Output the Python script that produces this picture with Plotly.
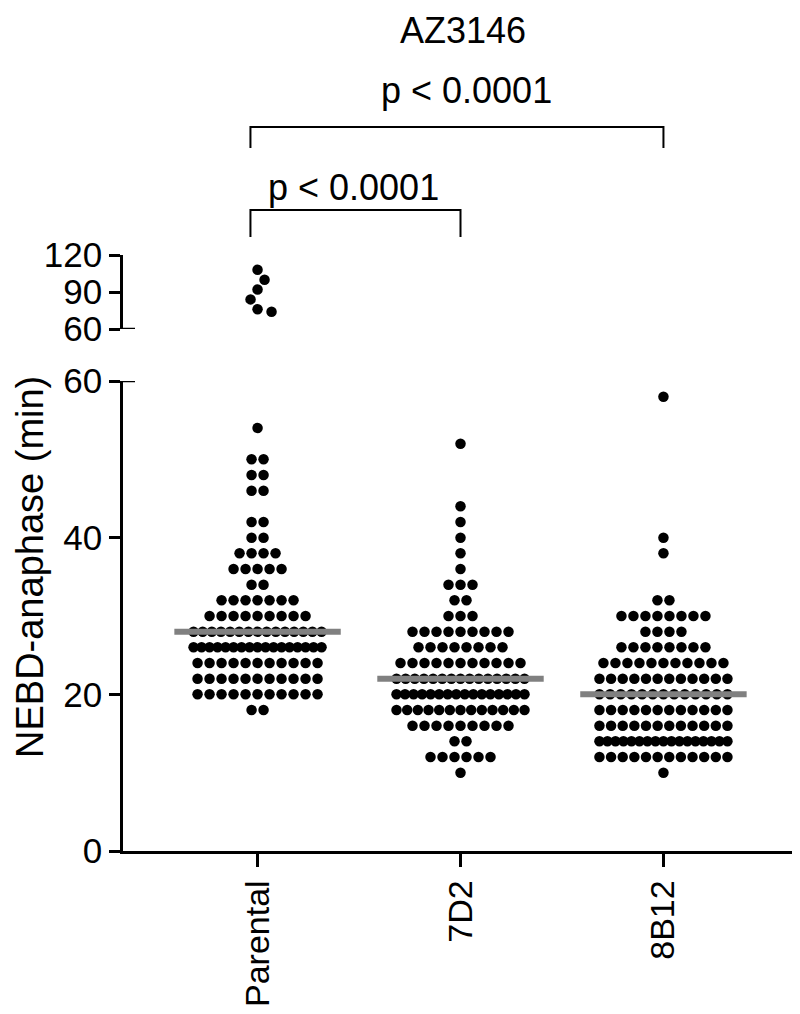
import numpy as np
import plotly.graph_objects as go

# ---------------- data ----------------
categories = ["Parental", "7D2", "8B12"]
# NEBD-anaphase time (min) and number of cells at each time
parental_values = [108, 100, 92, 84, 76, 74, 54, 50, 48, 46, 42, 40, 38, 36, 34, 32, 30, 28, 26, 24, 22, 20, 18]
parental_counts = [1, 1, 1, 1, 1, 1, 1, 2, 2, 2, 2, 2, 4, 5, 2, 7, 9, 15, 17, 11, 11, 11, 2]
d7_values = [52, 44, 42, 40, 38, 36, 34, 32, 30, 28, 26, 24, 22, 20, 18, 16, 14, 12, 10]
d7_counts = [1, 1, 1, 1, 1, 1, 3, 2, 3, 9, 8, 11, 15, 16, 13, 9, 2, 6, 1]
b8_values = [58, 40, 38, 32, 30, 28, 26, 24, 22, 20, 18, 16, 14, 12, 10]
b8_counts = [1, 1, 1, 2, 8, 4, 8, 11, 12, 13, 12, 12, 17, 12, 1]
p_labels = ["p < 0.0001", "p < 0.0001"]
comparisons = [(0, 1), (0, 2)]
lower_ticks = [0, 20, 40, 60]
upper_ticks = [60, 90, 120]
title_text = "AZ3146"
ytitle_text = "NEBD-anaphase (min)"

groups = [(parental_values, parental_counts), (d7_values, d7_counts), (b8_values, b8_counts)]

# ---------------- layout geometry (pixels inside the figure) ----------------
W, H = 800, 1014
ML, MR, MT, MB = 115, 10, 0, 171
XR = [-0.663, 2.663]
plot_w = W - ML - MR
plot_h = H - MT - MB
px_per_x = plot_w / (XR[1] - XR[0])
LOW_TOP_PX = 373      # pixel y of 60 on lower axis
UP_BOT_PX = 321       # pixel y of 60 on upper axis
UP_TOP_PX = 247       # pixel y of 120 on upper axis
low_dom = [0, (plot_h - LOW_TOP_PX) / plot_h]
up_dom = [(plot_h - UP_BOT_PX) / plot_h, (plot_h - UP_TOP_PX) / plot_h]
up_ppu = (UP_BOT_PX - UP_TOP_PX) / 60.0

DOT = 10.5
STEP = 12.0
MAXW = 128.0
FONT = "Liberation Sans, Arial, Helvetica, sans-serif"


def row_offsets(n):
    if n == 1:
        return [0.0]
    s = min(STEP, MAXW / (n - 1))
    return [(i - (n - 1) / 2) * s for i in range(n)]


def swarm(vals, ppu, step=7.0, coll=12.0):
    placed = []
    out = []
    last_sign = -1
    for v in sorted(vals, reverse=True):
        yp = v * ppu
        cands = [0.0]
        for k in range(1, 20):
            cands += [-last_sign * k * step, last_sign * k * step]
        for c in cands:
            if all((c - px) ** 2 + (yp - py) ** 2 >= coll ** 2 for px, py in placed):
                placed.append((c, yp))
                out.append((v, c))
                if c != 0:
                    last_sign = 1 if c > 0 else -1
                break
    return out


fig = go.Figure()
all_group_values = []
for gi, (vals, cnts) in enumerate(groups):
    xs_lo, ys_lo, xs_up, ys_up = [], [], [], []
    expanded = []
    up_vals = []
    for v, n in zip(vals, cnts):
        expanded += [v] * n
        if v > 60:
            up_vals += [v] * n
        else:
            for off in row_offsets(n):
                xs_lo.append(gi + off / px_per_x)
                ys_lo.append(v)
    for v, off in swarm(up_vals, up_ppu):
        xs_up.append(gi + off / px_per_x)
        ys_up.append(v)
    all_group_values.append(expanded)
    fig.add_trace(go.Scatter(x=xs_lo, y=ys_lo, mode="markers", xaxis="x", yaxis="y",
                             marker=dict(size=DOT, color="black", line=dict(width=0)),
                             showlegend=False, hoverinfo="skip"))
    if xs_up:
        fig.add_trace(go.Scatter(x=xs_up, y=ys_up, mode="markers", xaxis="x", yaxis="y2",
                                 marker=dict(size=DOT, color="black", line=dict(width=0)),
                                 showlegend=False, hoverinfo="skip"))

# median lines
for gi, ev in enumerate(all_group_values):
    m = float(np.median(ev))
    fig.add_trace(go.Scatter(x=[gi - 0.41, gi + 0.41], y=[m, m], mode="lines", xaxis="x", yaxis="y",
                             line=dict(color="#808080", width=6), showlegend=False, hoverinfo="skip"))

shapes = []
annotations = []


def py(pix):
    return (plot_h - pix) / plot_h


# comparison brackets: (bar px, leg bottom px, text centre px, text x shift px)
bracket_geom = [(202, 229, 180, -2), (119, 140, 82, 10)]
for (a, b), lab, (bar, leg, txt, xs) in zip(comparisons, p_labels, bracket_geom):
    xa, xb = a - 0.035, b
    shapes.append(dict(type="path", xref="x", yref="paper",
                       path=f"M {xa},{py(leg)} L {xa},{py(bar)} L {xb},{py(bar)} L {xb},{py(leg)}",
                       line=dict(color="black", width=2)))
    annotations.append(dict(x=(xa + xb) / 2, y=py(txt), xref="x", yref="paper", text=lab,
                            showarrow=False, xanchor="center", yanchor="middle", xshift=xs,
                            font=dict(size=36, color="black", family=FONT)))

# axis break marks
for yref in ["y", "y2"]:
    shapes.append(dict(type="line", xref="paper", yref=yref, x0=0, x1=12 / plot_w, y0=60, y1=60,
                       line=dict(color="black", width=2.5)))

annotations.append(dict(x=(22 - ML) / plot_w, y=py(559), xref="paper", yref="paper", text=ytitle_text,
                        showarrow=False, xanchor="center", yanchor="middle", textangle=-90,
                        font=dict(size=38, color="black", family=FONT)))

axis_common = dict(showline=True, linecolor="black", linewidth=2.5, ticks="outside", ticklen=11,
                   tickwidth=2.5, tickcolor="black", showgrid=False, zeroline=False, automargin=False)

fig.update_layout(
    width=W, height=H,
    margin=dict(l=ML, r=MR, t=MT, b=MB, pad=0, autoexpand=False),
    paper_bgcolor="white", plot_bgcolor="white",
    font=dict(family=FONT, color="black"),
    title=dict(text=title_text, x=(455 - ML) / plot_w, xref="paper", xanchor="center",
               y=1 - 22 / H, yref="container", yanchor="middle",
               font=dict(size=36, color="black", family=FONT)),
    xaxis=dict(range=XR, tickmode="array", tickvals=list(range(len(categories))), ticktext=categories,
               tickangle=-90, anchor="y", tickfont=dict(size=34, color="black", family=FONT),
               ticklen=13, **{k: v for k, v in axis_common.items() if k != "ticklen"}),
    yaxis=dict(range=[0, 60], domain=low_dom, tickmode="array", tickvals=lower_ticks, anchor="x",
               tickfont=dict(size=35, color="black", family=FONT), **axis_common),
    yaxis2=dict(range=[60, 120], domain=up_dom, tickmode="array", tickvals=upper_ticks, anchor="x",
                tickfont=dict(size=35, color="black", family=FONT), **axis_common),
    shapes=shapes,
    annotations=annotations,
)

fig.write_html("out.html")
